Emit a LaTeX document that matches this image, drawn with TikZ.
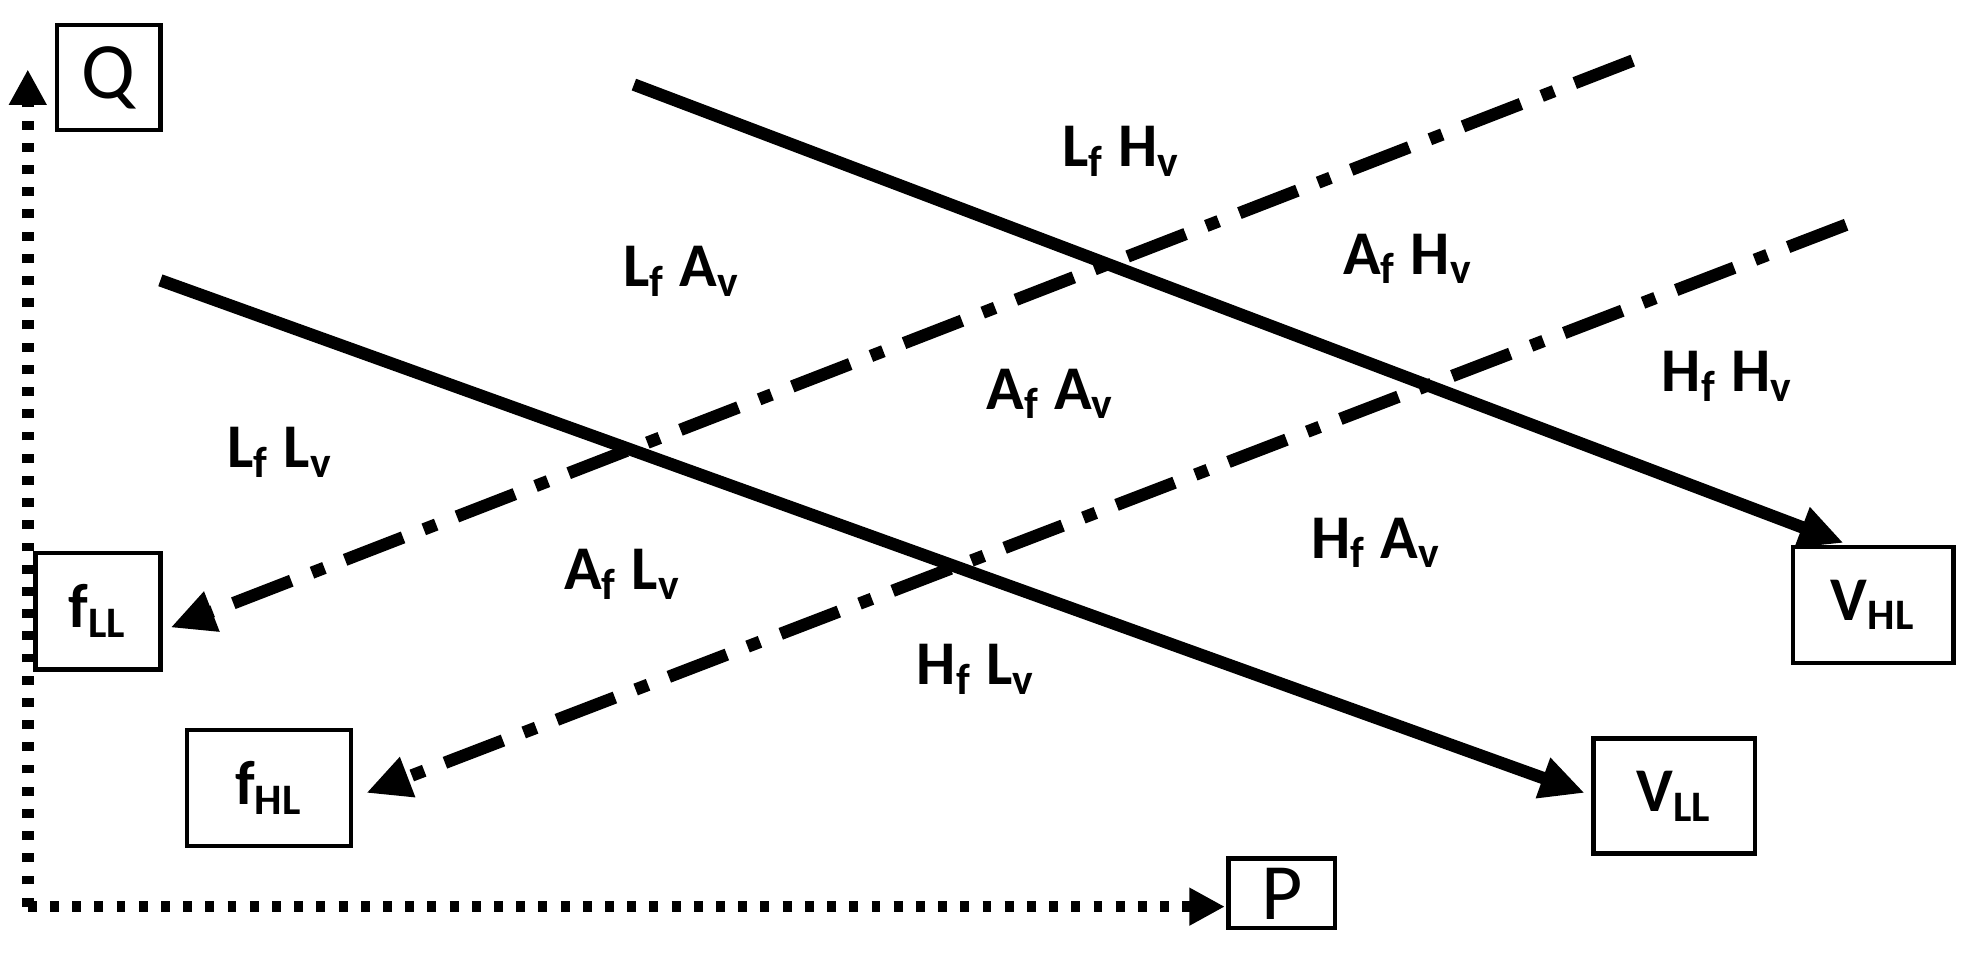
\documentclass[tikz,border=0pt]{standalone}
\usepackage{fontspec}
\setmainfont{Carlito}
\usetikzlibrary{arrows.meta}
\begin{document}
\begin{tikzpicture}[x=0.01cm,y=-0.01cm,
  box/.style={draw,line width=1pt,inner sep=0pt},
  lab/.style={font=\fontsize{14}{16}\selectfont\bfseries},
  big/.style={font=\fontsize{18}{20}\selectfont},
  solidl/.style={line width=2.8pt,-{Triangle[length=10pt,width=9pt]}},
  dashdot/.style={line width=2.8pt,dash pattern=on 14pt off 5pt on 3pt off 5pt,-{Triangle[length=10pt,width=9pt]}},
  axis/.style={line width=2.6pt,dash pattern=on 2pt off 3pt,-{Triangle[length=8pt,width=8pt]}}]
\useasboundingbox (0,0) rectangle (1568,758);
\node[box,big,minimum width=0.82cm,minimum height=0.83cm] (Q) at (86,61.5) {Q};
\node[box,big,minimum width=0.84cm,minimum height=0.55cm] (P) at (1015,707.5) {P};
\node[box,lab,minimum width=0.99cm,minimum height=0.92cm] (fLL) at (77.5,484) {f\textsubscript{LL}};
\node[box,lab,minimum width=1.30cm,minimum height=0.92cm] (fHL) at (213,624) {f\textsubscript{HL}};
\node[box,lab,minimum width=1.27cm,minimum height=0.92cm] (VHL) at (1483.5,479) {V\textsubscript{HL}};
\node[box,lab,minimum width=1.28cm,minimum height=0.91cm] (VLL) at (1326,630.5) {V\textsubscript{LL}};
\coordinate (O) at (22,718);
\coordinate (Qe) at (22,55);
\coordinate (Pe) at (970,718);
\draw[axis] (O) -- (Qe);
\draw[axis] (O) -- (Pe);
\coordinate (s1a) at (502,67); \coordinate (s1b) at (1460,430);
\coordinate (s2a) at (127,222); \coordinate (s2b) at (1255,628);
\coordinate (d1a) at (1293,48); \coordinate (d1b) at (135,497);
\coordinate (d2a) at (1462,178); \coordinate (d2b) at (290,628);
\draw[solidl] (s1a) -- (s1b);
\draw[solidl] (s2a) -- (s2b);
\draw[dashdot] (d1a) -- (d1b);
\draw[dashdot] (d2a) -- (d2b);
\node[lab] (l1) at (888,120) {L\textsubscript{f} H\textsubscript{v}};
\node[lab] (l2) at (540,215) {L\textsubscript{f} A\textsubscript{v}};
\node[lab] (l3) at (1115,205) {A\textsubscript{f} H\textsubscript{v}};
\node[lab] (l4) at (832,312) {A\textsubscript{f} A\textsubscript{v}};
\node[lab] (l5) at (1368,298) {H\textsubscript{f} H\textsubscript{v}};
\node[lab] (l6) at (222,358) {L\textsubscript{f} L\textsubscript{v}};
\node[lab] (l7) at (493,455) {A\textsubscript{f} L\textsubscript{v}};
\node[lab] (l8) at (1090,430) {H\textsubscript{f} A\textsubscript{v}};
\node[lab] (l9) at (773,530) {H\textsubscript{f} L\textsubscript{v}};
\end{tikzpicture}
\end{document}
